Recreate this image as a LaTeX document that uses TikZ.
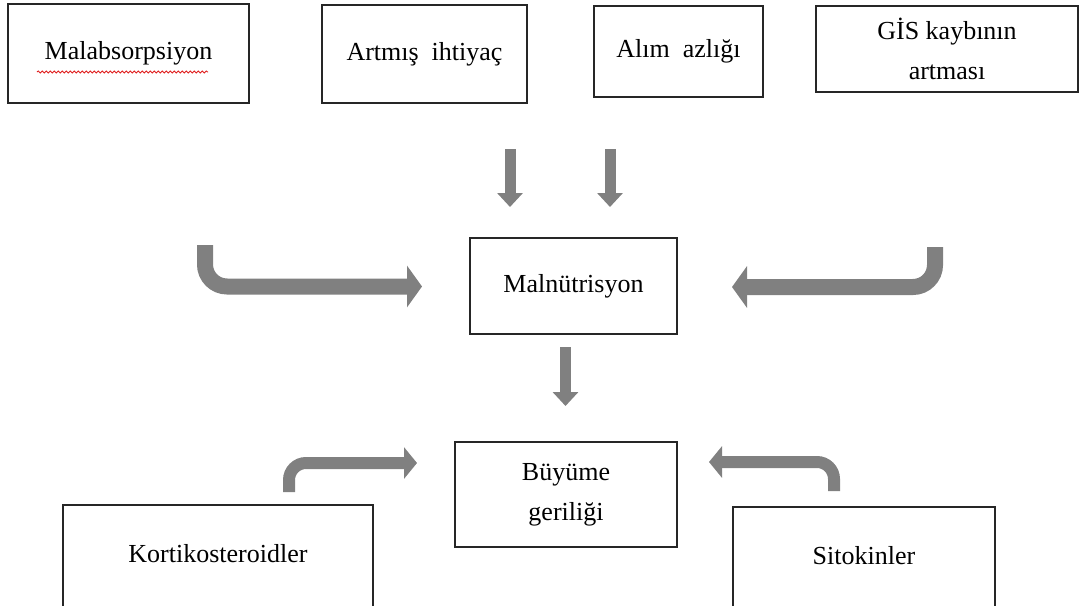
\documentclass[tikz,border=0pt]{standalone}
\usepackage{fontspec}
\setmainfont{Liberation Serif}
\usetikzlibrary{arrows.meta,decorations.pathmorphing}
\definecolor{arrowgray}{HTML}{808080}
\definecolor{boxline}{HTML}{262626}
\definecolor{spellred}{HTML}{E02020}
\begin{document}
\begin{tikzpicture}[x=1pt,y=-1pt,
  box/.style={draw=boxline, line width=1.4pt, inner sep=0pt, align=center,
    font=\fontsize{26}{40}\selectfont},
  downarrow/.style={draw=arrowgray, line width=11pt,
    -{Triangle[width=25pt,length=14pt]}},
  bigbend/.style={draw=arrowgray, line width=16pt, rounded corners=22pt,
    -{Triangle[width=41pt,length=15pt]}},
  smallbend/.style={draw=arrowgray, line width=12pt, rounded corners=17pt,
    -{Triangle[width=31pt,length=13pt]}}]
\clip (0,0) rectangle (1083,605);
\fill[white] (0,0) rectangle (1083,605);

% top row
\node[box, minimum width=241pt, minimum height=99pt] (malab) at (128.5,53.5) {Malabsorpsiyon};
\node[box, minimum width=205pt, minimum height=98pt] (artmis) at (424.5,54) {Artmış\ \ ihtiyaç};
\node[box, minimum width=169pt, minimum height=91pt] (alim) at (678.5,51.5) {Alım\ \ azlığı};
\node[box, minimum width=262pt, minimum height=86pt] (gis) at (947,49) {GİS kaybının\\artması};

% spell-check underline
\coordinate (wavyA) at (37,72);
\coordinate (wavyB) at (208,72);
\draw[spellred, line width=0.8pt, decorate,
  decoration={snake, segment length=4pt, amplitude=1.1pt}] (wavyA) -- (wavyB);

% middle
\node[box, minimum width=207pt, minimum height=96pt] (maln) at (573.5,286) {Malnütrisyon};
\node[box, minimum width=222pt, minimum height=105pt] (buyume) at (566,494.5) {Büyüme\\geriliği};

% bottom
\node[box, minimum width=310pt, minimum height=110pt] (kort) at (218,560)
  {\raisebox{-2pt}[0pt][0pt]{Kortikosteroidler}};
\node[box, minimum width=262pt, minimum height=110pt] (sito) at (864,562)
  {\raisebox{-2pt}[0pt][0pt]{Sitokinler}};

% arrow coordinates
\coordinate (d1s) at (510,149);
\coordinate (d1e) at (510,207);
\coordinate (d2s) at (610,149);
\coordinate (d2e) at (610,207);
\coordinate (d3s) at (565.5,347);
\coordinate (d3e) at (565.5,406);

\coordinate (lts) at (205,245);
\coordinate (ltc) at (205,286.5);
\coordinate (lte) at (422,286.5);

\coordinate (rts) at (935,247);
\coordinate (rtc) at (935,287);
\coordinate (rte) at (732,287);

\coordinate (lbs) at (289,492);
\coordinate (lbc) at (289,463);
\coordinate (lbe) at (417,463);

\coordinate (rbs) at (834,491);
\coordinate (rbc) at (834,462);
\coordinate (rbe) at (709,462);

\draw[downarrow] (d1s) -- (d1e);
\draw[downarrow] (d2s) -- (d2e);
\draw[downarrow] (d3s) -- (d3e);

\draw[bigbend] (lts) -- (ltc) -- (lte);
\draw[bigbend] (rts) -- (rtc) -- (rte);
\draw[smallbend] (lbs) -- (lbc) -- (lbe);
\draw[smallbend] (rbs) -- (rbc) -- (rbe);
\end{tikzpicture}
\end{document}
